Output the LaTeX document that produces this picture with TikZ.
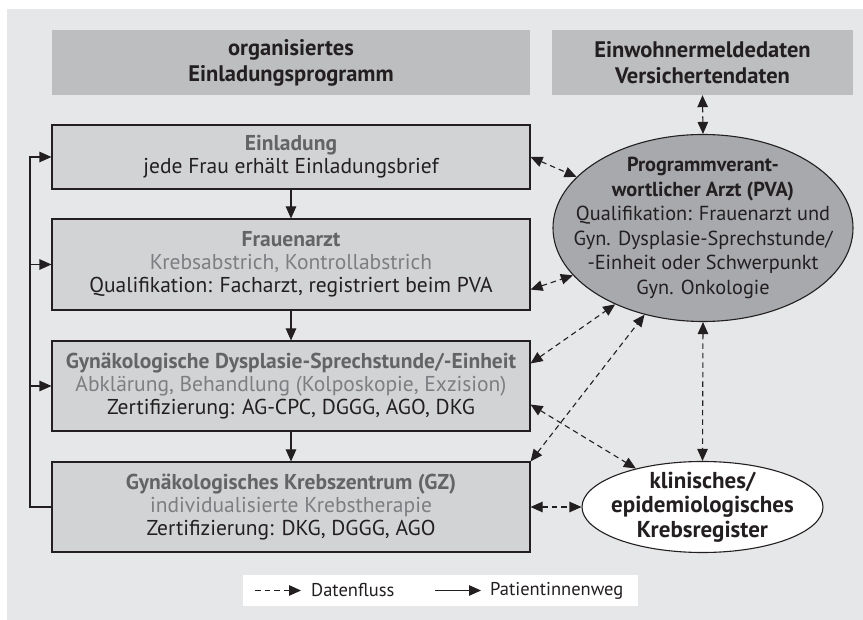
\documentclass[tikz,border=0pt]{standalone}
\usepackage{fontspec}
\setmainfont{PT Sans}
\usetikzlibrary{arrows.meta,shapes.geometric,calc}
\definecolor{panelbg}{HTML}{E6E7E8}
\definecolor{topfill}{HTML}{BCBEC0}
\definecolor{flowfill}{HTML}{D1D3D4}
\definecolor{pvafill}{HTML}{A7A9AC}
\definecolor{titlegray}{HTML}{636466}
\definecolor{subgray}{HTML}{7D7E81}
\definecolor{ink}{HTML}{231F20}
\begin{document}
\begin{tikzpicture}[x=1pt,y=-1pt,
  every node/.style={font=\fontsize{21.5}{23}\selectfont, text=ink, align=center},
  topbox/.style={fill=topfill, draw=none, minimum height=65pt, inner sep=0pt,
    font=\fontsize{22.5}{26}\selectfont\bfseries},
  flowbox/.style={fill=flowfill, draw=ink, line width=1.1pt, minimum width=478pt, inner sep=0pt},
  ellbox/.style={ellipse, draw=ink, line width=1.1pt, inner sep=0pt},
  tip/.tip={Triangle[length=12pt,width=10.5pt]},
  datalink/.style={draw=ink, line width=1.1pt, dash pattern=on 5.5pt off 4pt, tip-tip},
  patient/.style={draw=ink, line width=1.1pt, -tip},
]
\useasboundingbox (0,0) rectangle (863,620);
\fill[panelbg] (7,9) rectangle (863,620);

% top boxes
\node[topbox, minimum width=478pt] (prog) at (291,62.5) {organisiertes\\Einladungsprogramm};
\node[topbox, minimum width=301pt] (meld) at (702.5,62.5) {Einwohnermeldedaten\\Versichertendaten};

% flow boxes
\node[flowbox, minimum height=64pt] (einl) at (291,157)
  {{\color{titlegray}\bfseries Einladung}\\jede Frau erhält Einladungsbrief};
\node[flowbox, minimum height=91pt] (fa) at (291,264.5)
  {{\color{titlegray}\bfseries Frauenarzt}\\{\color{subgray}Krebsabstrich, Kontrollabstrich}\\Qualifikation: Facharzt, registriert beim PVA};
\node[flowbox, minimum height=90pt] (dys) at (291,386)
  {{\color{titlegray}\bfseries Gynäkologische Dysplasie-Sprechstunde/-Einheit}\\{\color{subgray}Abklärung, Behandlung (Kolposkopie, Exzision)}\\Zertifizierung: AG-CPC, DGGG, AGO, DKG};
\node[flowbox, minimum height=90pt] (gz) at (291,507)
  {{\color{titlegray}\bfseries Gynäkologisches Krebszentrum (GZ)}\\{\color{subgray}individualisierte Krebstherapie}\\Zertifizierung: DKG, DGGG, AGO};

% ellipses (fixed size) with text on top
\node[ellbox, fill=pvafill, minimum width=300pt, minimum height=187pt] (pva) at (703,228) {};
\node[font=\fontsize{20.3}{24.5}\selectfont, inner sep=0pt] (pvatext) at (pva.center)
  {{\bfseries Programmverant-}\\{\bfseries wortlicher Arzt (PVA)}\\Qualifikation: Frauenarzt und\\Gyn. Dysplasie-Sprechstunde/\\-Einheit oder Schwerpunkt\\Gyn. Onkologie};
\node[ellbox, fill=white, minimum width=241pt, minimum height=91pt] (kr) at (702.5,507) {};
\node[font=\fontsize{23}{24.5}\selectfont\bfseries, inner sep=0pt] (krtext) at (kr.center)
  {klinisches/\\epidemiologisches\\Krebsregister};

% patient path
\draw[patient] (einl) -- (fa);
\draw[patient] (fa) -- (dys);
\draw[patient] (dys) -- (gz);
\coordinate (lx) at (30,507);
\draw[patient] (gz.west) -- (lx) |- (einl.west);
\draw[patient] (lx |- fa.west) -- (fa.west);
\draw[patient] (lx |- dys.west) -- (dys.west);

% data flow
\draw[datalink] (meld.south) -- (pva.north);
\draw[datalink] (einl.east) -- (pva.158);
\draw[datalink] ($(fa.south east)+(0,-21)$) -- (pva.200);
\draw[datalink] ($(dys.north east)+(0,23)$) -- (pva.221);
\draw[datalink] (gz.north east) -- (pva.236);
\draw[datalink] ($(dys.south east)+(0,-27)$) -- (kr.150);
\draw[datalink] (gz.east) -- (kr.west);
\draw[datalink] (pva.south) -- (kr.north);

% legend
\node[fill=white, minimum width=395pt, minimum height=31pt, inner sep=0pt] (legend) at (440.5,590.5) {};
\coordinate (d1) at (255,590.5);
\coordinate (d2) at (301,590.5);
\coordinate (p1) at (435,590.5);
\coordinate (p2) at (481,590.5);
\draw[draw=ink, line width=1.1pt, dash pattern=on 5.5pt off 4pt, -tip] (d1) -- (d2);
\draw[patient] (p1) -- (p2);
\node[anchor=west, inner sep=0pt, font=\fontsize{18.5}{22}\selectfont] (dl) at (311,590.5) {Datenfluss};
\node[anchor=west, inner sep=0pt, font=\fontsize{18.5}{22}\selectfont] (pl) at (490,590.5) {Patientinnenweg};
\end{tikzpicture}
\end{document}
